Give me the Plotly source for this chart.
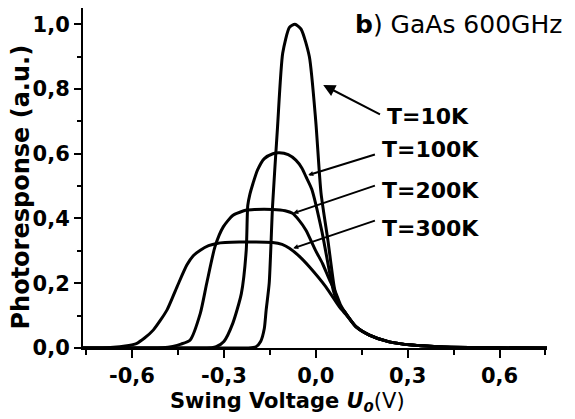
import plotly.graph_objects as go

# ---- data ----
x_10K = [-0.76, -0.30, -0.22, -0.195, -0.18, -0.168, -0.162, -0.152, -0.141, -0.125, -0.108, -0.086, -0.068,
         -0.048, -0.021, 0.0, 0.017, 0.04, 0.06, 0.073, 0.098, 0.131, 0.175, 0.24, 0.315, 0.4, 0.5, 0.6, 0.755]
y_10K = [0.0, 0.0, 0.0, 0.004, 0.02, 0.06, 0.117, 0.2, 0.44, 0.68, 0.91, 0.99, 1.0,
         0.985, 0.90, 0.70, 0.48, 0.33, 0.19, 0.138, 0.107, 0.066, 0.04, 0.019, 0.009, 0.004, 0.0015, 0.0005, 0.0]

x_100K = [-0.76, -0.40, -0.34, -0.325, -0.30, -0.271, -0.243, -0.227, -0.222, -0.215, -0.206, -0.19, -0.168,
          -0.14, -0.119, -0.09, -0.065, -0.045, -0.032, -0.013, 0.02, 0.057, 0.073, 0.098, 0.131, 0.175, 0.24,
          0.315, 0.4, 0.5, 0.6, 0.755]
y_100K = [0.0, 0.0, 0.001, 0.004, 0.02, 0.076, 0.168, 0.302, 0.44, 0.475, 0.505, 0.55, 0.585,
          0.60, 0.603, 0.597, 0.58, 0.555, 0.529, 0.49, 0.36, 0.179, 0.138, 0.107, 0.066, 0.04, 0.019,
          0.009, 0.004, 0.0015, 0.0005, 0.0]

x_200K = [-0.76, -0.55, -0.50, -0.467, -0.44, -0.41, -0.377, -0.356, -0.329, -0.302, -0.27, -0.226,
          -0.2, -0.141, -0.1, -0.076, -0.055, -0.032, 0.0, 0.022, 0.045, 0.066, 0.08, 0.098, 0.131,
          0.175, 0.24, 0.315, 0.4, 0.5, 0.6, 0.755]
y_200K = [0.0, 0.0, 0.001, 0.005, 0.012, 0.025, 0.107, 0.2, 0.313, 0.374, 0.41, 0.426,
          0.428, 0.428, 0.424, 0.416, 0.395, 0.364, 0.30, 0.261, 0.21, 0.169, 0.135, 0.107, 0.066,
          0.04, 0.019, 0.009, 0.004, 0.0015, 0.0005, 0.0]

x_300K = [-0.76, -0.68, -0.64, -0.61, -0.584, -0.56, -0.53, -0.486, -0.453, -0.421, -0.40, -0.377,
          -0.35, -0.323, -0.25, -0.141, -0.11, -0.086, -0.05, -0.021, 0.033, 0.077, 0.098, 0.131, 0.175,
          0.24, 0.315, 0.4, 0.5, 0.6, 0.755]
y_300K = [0.0, 0.001, 0.004, 0.008, 0.0145, 0.03, 0.056, 0.117, 0.189, 0.256, 0.285, 0.302,
          0.316, 0.323, 0.327, 0.326, 0.32, 0.308, 0.28, 0.251, 0.189, 0.127, 0.104, 0.066, 0.04,
          0.019, 0.009, 0.004, 0.0015, 0.0005, 0.0]

series_names = ["T=10K", "T=100K", "T=200K", "T=300K"]
x_tickvals = [-0.6, -0.3, 0.0, 0.3, 0.6]
x_ticktext = ["-0,6", "-0,3", "0,0", "0,3", "0,6"]
y_tickvals = [0.0, 0.2, 0.4, 0.6, 0.8, 1.0]
y_ticktext = ["0,0", "0,2", "0,4", "0,6", "0,8", "1,0"]

FONT = "DejaVu Sans"

fig = go.Figure()
for name, xs, ys in zip(series_names, [x_10K, x_100K, x_200K, x_300K], [y_10K, y_100K, y_200K, y_300K]):
    fig.add_trace(go.Scatter(x=xs, y=ys, mode="lines", name=name,
                             line=dict(color="black", width=3, shape="spline", smoothing=0.6),
                             showlegend=False))

axis_common = dict(showgrid=False, zeroline=False, showline=True, linecolor="black", linewidth=2,
                   ticks="outside", tickcolor="black", tickwidth=2,
                   tickfont=dict(family=FONT, size=21, color="black", weight="bold"))

# page has an 8px body margin; figure sized to fit the 575x419 window
fig.update_layout(
    width=567, height=411,
    margin=dict(l=75, r=28, t=0, b=71),
    paper_bgcolor="white", plot_bgcolor="white",
    xaxis=dict(range=[-0.76, 0.755], tickvals=x_tickvals, ticktext=x_ticktext, ticklen=8,
               minor=dict(dtick=0.15, tick0=0, ticks="outside", ticklen=5, tickcolor="black", tickwidth=2),
               **axis_common),
    yaxis=dict(range=[0, 1.05], tickvals=y_tickvals, ticktext=y_ticktext, ticklen=7,
               minor=dict(dtick=0.1, tick0=0, ticks="outside", ticklen=4, tickcolor="black", tickwidth=2),
               **axis_common),
)

# labels with arrows
arrow_specs = [
    # (head x, head y, tail x, tail y, arrowhead, arrowsize)
    (0.0243, 0.812, 0.2146, 0.719, 2, 1.2),
    (-0.0246, 0.534, 0.198, 0.599, 2, 0.5),
    (-0.0735, 0.416, 0.198, 0.503, 2, 0.5),
    (-0.0735, 0.308, 0.198, 0.395, 2, 0.5),
]
label_pos = [(0.2253, 0.7154), (0.209, 0.6117), (0.211, 0.4877), (0.209, 0.3694)]
for name, (hx, hy, tx, ty, ah, asz), (lx, ly) in zip(series_names, arrow_specs, label_pos):
    fig.add_annotation(x=hx, y=hy, ax=tx, ay=ty, xref="x", yref="y", axref="x", ayref="y",
                       text="", showarrow=True, arrowhead=ah, arrowsize=asz, arrowwidth=2,
                       arrowcolor="black", standoff=0, startstandoff=0)
    fig.add_annotation(x=lx, y=ly, xref="x", yref="y", text=name, showarrow=False,
                       xanchor="left", yanchor="middle",
                       font=dict(family=FONT, size=22, color="black", weight="bold"))

# panel title
fig.add_annotation(x=0.122, y=1.0, xref="x", yref="paper", text="<b>b</b>) GaAs 600GHz",
                   showarrow=False, xanchor="left", yanchor="top",
                   font=dict(family=FONT, size=25, color="black"))

# axis titles
fig.add_annotation(x=0.44, y=-0.159, xref="paper", yref="paper",
                   text="<b>Swing Voltage <i>U</i><sub><i>0</i></sub></b>(V)",
                   showarrow=False, xanchor="center", yanchor="middle",
                   font=dict(family=FONT, size=21, color="black"))
fig.add_annotation(x=-0.1336, y=0.472, xref="paper", yref="paper", text="<b>Photoresponse (a.u.)</b>",
                   textangle=-90, showarrow=False, xanchor="center", yanchor="middle",
                   font=dict(family=FONT, size=24, color="black"))

fig.write_html("out.html")
